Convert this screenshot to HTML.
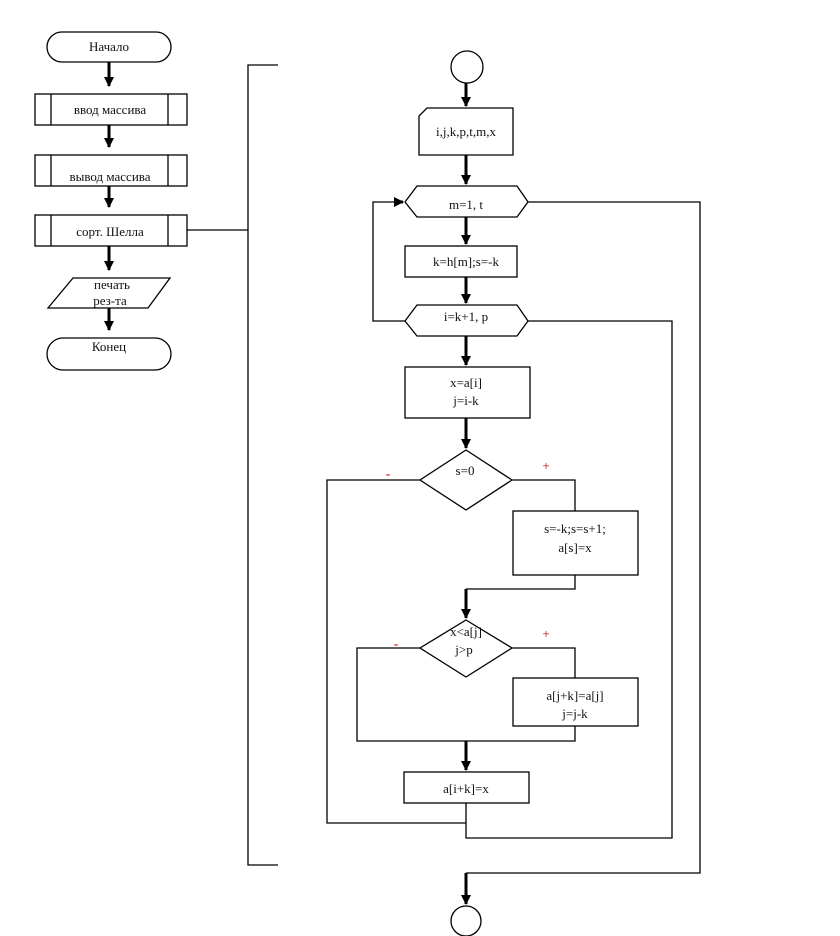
<!DOCTYPE html>
<html><head><meta charset="utf-8"><style>
html,body{margin:0;padding:0;background:#fff;}
svg{display:block;}
text{font-family:"Liberation Serif",serif;font-size:13px;fill:#111;text-anchor:middle;}
</style></head><body>
<svg width="840" height="936" viewBox="0 0 840 936" xmlns="http://www.w3.org/2000/svg">
<defs>
<marker id="a" markerWidth="10" markerHeight="10" refX="9" refY="5" orient="auto" markerUnits="userSpaceOnUse">
<path d="M0,0 L10,5 L0,10 Z" fill="#000"/></marker>
</defs>
<g fill="none" stroke="#000" stroke-width="1.3">
<!-- left column -->
<rect x="47" y="32" width="124" height="30" rx="15"/>
<rect x="35" y="94" width="152" height="31"/><line x1="51" y1="94" x2="51" y2="125"/><line x1="168" y1="94" x2="168" y2="125"/>
<rect x="35" y="155" width="152" height="31"/><line x1="51" y1="155" x2="51" y2="186"/><line x1="168" y1="155" x2="168" y2="186"/>
<rect x="35" y="215" width="152" height="31"/><line x1="51" y1="215" x2="51" y2="246"/><line x1="168" y1="215" x2="168" y2="246"/>
<polygon points="73,278 170,278 148,308 48,308"/>
<rect x="47" y="338" width="124" height="32" rx="16"/>
<g stroke-width="3">
<line x1="109" y1="62" x2="109" y2="86" marker-end="url(#a)"/>
<line x1="109" y1="125" x2="109" y2="147" marker-end="url(#a)"/>
<line x1="109" y1="186" x2="109" y2="207" marker-end="url(#a)"/>
<line x1="109" y1="246" x2="109" y2="270" marker-end="url(#a)"/>
<line x1="109" y1="308" x2="109" y2="330" marker-end="url(#a)"/>
</g>
<polyline points="187,230 248,230"/>
<polyline points="278,65 248,65 248,865 278,865"/>
<!-- right -->
<circle cx="467" cy="67" r="16"/>
<polygon points="427,108 513,108 513,155 419,155 419,116"/>
<polygon points="405,202 417,186 517,186 528,202 517,217 417,217"/>
<rect x="405" y="246" width="112" height="31"/>
<polygon points="405,321 417,305 517,305 528,321 517,336 417,336"/>
<rect x="405" y="367" width="125" height="51"/>
<polygon points="466,450 512,480 466,510 420,480"/>
<rect x="513" y="511" width="125" height="64"/>
<polygon points="466,620 512,648 466,677 420,648"/>
<rect x="513" y="678" width="125" height="48"/>
<rect x="404" y="772" width="125" height="31"/>
<circle cx="466" cy="921" r="15"/>
<!-- lines -->
<polyline points="405,321 373,321 373,202 395,202"/>
<polyline points="528,202 700,202 700,873 466,873"/>
<polyline points="528,321 672,321 672,838 466,838 466,803"/>
<polyline points="466,823 327,823 327,480 420,480"/>
<polyline points="512,480 575,480 575,511"/>
<polyline points="575,575 575,589 466,589"/>
<polyline points="512,648 575,648 575,678"/>
<polyline points="575,726 575,741 357,741 357,648 420,648"/>
<g stroke-width="3">
<line x1="395" y1="202" x2="403" y2="202" marker-end="url(#a)"/>
<line x1="466" y1="83" x2="466" y2="106" marker-end="url(#a)"/>
<line x1="466" y1="155" x2="466" y2="184" marker-end="url(#a)"/>
<line x1="466" y1="217" x2="466" y2="244" marker-end="url(#a)"/>
<line x1="466" y1="277" x2="466" y2="303" marker-end="url(#a)"/>
<line x1="466" y1="336" x2="466" y2="365" marker-end="url(#a)"/>
<line x1="466" y1="418" x2="466" y2="448" marker-end="url(#a)"/>
<line x1="466" y1="589" x2="466" y2="618" marker-end="url(#a)"/>
<line x1="466" y1="741" x2="466" y2="770" marker-end="url(#a)"/>
<line x1="466" y1="873" x2="466" y2="904" marker-end="url(#a)"/>
</g>
</g>
<text x="109" y="51">Начало</text>
<text x="110" y="114">ввод массива</text>
<text x="110" y="181">вывод массива</text>
<text x="110" y="236">сорт. Шелла</text>
<text x="112" y="289">печать</text>
<text x="110" y="305">рез-та</text>
<text x="109" y="351">Конец</text>
<text x="466" y="136">i,j,k,p,t,m,x</text>
<text x="466" y="209">m=1, t</text>
<text x="466" y="266">k=h[m];s=-k</text>
<text x="466" y="321">i=k+1, p</text>
<text x="466" y="387">x=a[i]</text>
<text x="466" y="405">j=i-k</text>
<text x="465" y="475">s=0</text>
<text x="575" y="533">s=-k;s=s+1;</text>
<text x="575" y="552">a[s]=x</text>
<text x="466" y="636">x&lt;a[j]</text>
<text x="464" y="654">j&gt;p</text>
<text x="575" y="700">a[j+k]=a[j]</text>
<text x="575" y="718">j=j-k</text>
<text x="466" y="793">a[i+k]=x</text>
<text x="388" y="478" style="fill:#c00;font-weight:bold">-</text>
<text x="546" y="470" style="fill:#c00">+</text>
<text x="396" y="648" style="fill:#c00;font-weight:bold">-</text>
<text x="546" y="638" style="fill:#c00">+</text>
</svg>
</body></html>
